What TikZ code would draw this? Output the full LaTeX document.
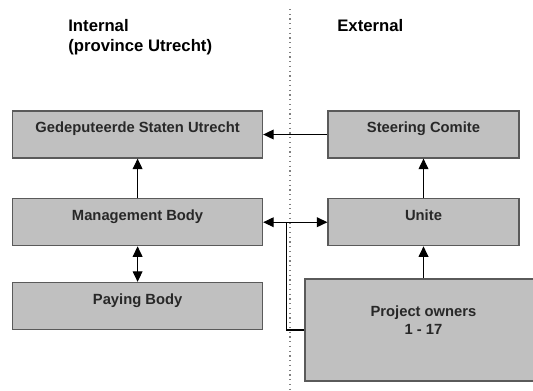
\documentclass[tikz,border=0pt]{standalone}
\usepackage{fontspec}
\setmainfont{Liberation Sans}
\usetikzlibrary{arrows.meta, positioning, calc}
\definecolor{boxgray}{RGB}{192,192,192}
\definecolor{edgegray}{RGB}{90,90,90}
\definecolor{txtgray}{RGB}{40,40,40}

\begin{document}
\begin{tikzpicture}[
    x=0.02cm, y=-0.02cm,
    unit/.style={rectangle, draw=edgegray, line width=0.7pt, fill=boxgray,
                 minimum width=5cm, minimum height=0.94cm, align=center,
                 text height=5pt, text depth=6.8pt, text=txtgray,
                 font=\fontsize{8.4}{10.5}\selectfont\bfseries},
    head/.style={anchor=north west, inner sep=0pt, align=left,
                 font=\fontsize{9.5}{11.3}\selectfont\bfseries},
    arr/.style={-{Triangle[length=6pt, width=5.6pt]}, line width=0.6pt, black},
    dblarr/.style={{Triangle[length=6pt, width=5.6pt]}-{Triangle[length=6pt, width=5.6pt]},
                   line width=0.6pt, black},
    link/.style={line width=0.6pt, black}
]
\useasboundingbox (0,0) rectangle (533,390);
\clip (0,0) rectangle (533,390);

% divider between the two sides
\draw[gray, dotted, line width=0.7pt] (290,9) -- (290,390);

\node[head] (internal) at (68,19) {Internal\\(province Utrecht)};
\node[head] (external) at (337,19) {External};

% internal side
\node[unit] (ged) at (137.6,134.5) {Gedeputeerde Staten Utrecht};
\node[unit, below=0.79cm of ged] (mgmt) {Management Body};
\node[unit, below=0.71cm of mgmt] (pay) {Paying Body};

% external side
\node[unit, minimum width=3.82cm] (steer) at (423.5,134.5) {Steering Comite};
\node[unit, minimum width=3.82cm, below=0.79cm of steer] (unite) {Unite};
\node[unit, minimum width=4.74cm, minimum height=2.04cm, text height=8pt, text depth=2.4pt]
    (owners) at (423.5,330) {Project owners\\1 - 17};

\draw[arr] (mgmt) -- (ged);
\draw[arr] (steer) -- (ged);
\draw[arr] (unite) -- (steer);
\draw[arr] (owners) -- (unite);
\draw[dblarr] (mgmt) -- (pay);
\draw[dblarr] (mgmt) -- (unite);
\coordinate (join) at ($(mgmt.east)!0.36!(unite.west)$);
\draw[link] (owners.west) -| (join);
\end{tikzpicture}
\end{document}
